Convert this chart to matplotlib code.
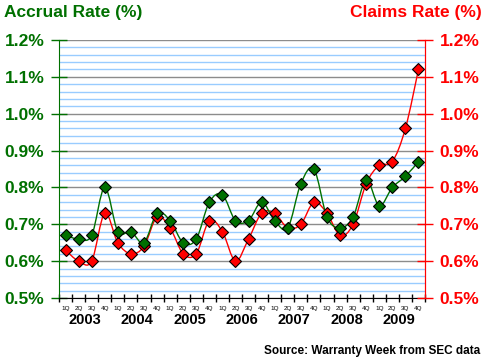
import numpy as np
import matplotlib
matplotlib.use("Agg")
import matplotlib.pyplot as plt
from matplotlib.path import Path
from matplotlib.patches import PathPatch
from matplotlib.ticker import MultipleLocator, FixedLocator

plt.rcParams['font.family'] = ['Liberation Sans', 'DejaVu Sans']

# Data (percent), quarterly 2003-2009
years = ['2003', '2004', '2005', '2006', '2007', '2008', '2009']
quarters = ['1Q', '2Q', '3Q', '4Q']
accrual = [0.67, 0.66, 0.67, 0.80,
           0.68, 0.68, 0.65, 0.73,
           0.71, 0.65, 0.66, 0.76,
           0.78, 0.71, 0.71, 0.76,
           0.71, 0.69, 0.81, 0.85,
           0.72, 0.69, 0.72, 0.82,
           0.75, 0.80, 0.83, 0.87]
claims = [0.63, 0.60, 0.60, 0.73,
          0.65, 0.62, 0.64, 0.72,
          0.69, 0.62, 0.62, 0.71,
          0.68, 0.60, 0.66, 0.73,
          0.73, 0.69, 0.70, 0.76,
          0.73, 0.67, 0.70, 0.81,
          0.86, 0.87, 0.96, 1.12]

GREEN = '#007000'
RED = '#ff0000'

W, H = 490, 362
fig = plt.figure(figsize=(W / 100, H / 100), dpi=100)
L, R, T, B = 59, 425, 40, 298
ax = fig.add_axes([L / W, 1 - B / H, (R - L) / W, (B - T) / H])

n = len(accrual)
xs = np.arange(n) + 0.5


def smooth_path(x, y):
    # Excel-style smoothed line: Catmull-Rom segments as cubic Beziers
    pts = np.column_stack([x, y])
    ext = np.vstack([pts[0], pts, pts[-1]])
    verts = [pts[0]]
    codes = [Path.MOVETO]
    for i in range(len(pts) - 1):
        p0, p1, p2, p3 = ext[i], ext[i + 1], ext[i + 2], ext[i + 3]
        verts += [p1 + (p2 - p0) / 6, p2 - (p3 - p1) / 6, p2]
        codes += [Path.CURVE4] * 3
    return Path(verts, codes)


for vals, col in [(claims, RED), (accrual, GREEN)]:
    ax.add_patch(PathPatch(smooth_path(xs, vals), fill=False, edgecolor=col,
                           lw=1.0, zorder=3))
    ax.plot(xs, vals, linestyle='none', marker='D', markersize=6,
            markerfacecolor=col, markeredgecolor='black', markeredgewidth=0.8,
            zorder=4)

ax.set_xlim(0, n)
ax.set_ylim(0.5, 1.2)

# grid
ax.yaxis.set_major_locator(MultipleLocator(0.1))
ax.yaxis.set_minor_locator(MultipleLocator(0.02))
ax.grid(True, which='minor', axis='y', color='#99ccff', lw=1.0, zorder=0)
ax.grid(True, which='major', axis='y', color='#8c8c8c', lw=1.0, zorder=1)
ax.set_axisbelow(True)

ax.spines['top'].set_visible(False)
ax.spines['left'].set_color(GREEN)
ax.spines['right'].set_color(RED)
ax.spines['bottom'].set_color('black')

ax.yaxis.set_major_formatter(lambda v, p: f'{v:.1f}%')
ax.tick_params(axis='y', which='major', direction='inout', length=11, width=1,
               color=GREEN, labelcolor=GREEN, labelsize=12.5, pad=5)
ax.tick_params(axis='y', which='minor', length=0)

ax2 = ax.twinx()
ax2.set_ylim(0.5, 1.2)
ax2.yaxis.set_major_locator(MultipleLocator(0.1))
ax2.yaxis.set_major_formatter(lambda v, p: f'{v:.1f}%')
ax2.tick_params(axis='y', direction='inout', length=11, width=1,
                color=RED, labelcolor=RED, labelsize=12.5, pad=5)
for s in ['top', 'left', 'bottom']:
    ax2.spines[s].set_visible(False)
ax2.spines['right'].set_color(RED)
for a in (ax, ax2):
    for lab in a.get_yticklabels():
        lab.set_fontweight('bold')

# x axis: ticks at category boundaries
ax.xaxis.set_major_locator(FixedLocator(np.arange(n + 1)))
ax.tick_params(axis='x', direction='inout', length=6, width=1, color='black',
               labelbottom=False)

for i in range(n):
    ax.text(xs[i], -0.040, quarters[i % 4], transform=ax.get_xaxis_transform(),
            ha='center', va='center', fontsize=4.6, color='black')
for j, yr in enumerate(years):
    ax.text(j * 4 + 2, -0.085, yr, transform=ax.get_xaxis_transform(),
            ha='center', va='center', fontsize=10.5, fontweight='bold',
            color='black')

fig.text(4 / W, 1 - 12 / H, 'Accrual Rate (%)', ha='left', va='center',
         fontsize=12.5, fontweight='bold', color=GREEN)
fig.text(482 / W, 1 - 12 / H, 'Claims Rate (%)', ha='right', va='center',
         fontsize=12.5, fontweight='bold', color=RED)
fig.text(480 / W, 1 - 351 / H, 'Source: Warranty Week from SEC data',
         ha='right', va='center', fontsize=8.5, fontweight='bold',
         color='black')

fig.savefig('out.png', dpi=100)
